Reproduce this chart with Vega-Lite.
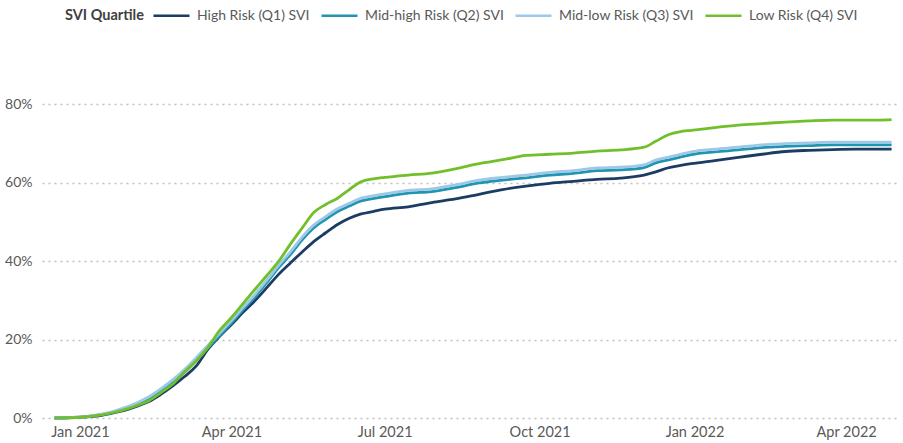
{
  "$schema": "https://vega.github.io/schema/vega-lite/v6.json",
  "width": 858,
  "height": 314,
  "autosize": "none",
  "padding": {"left": 42, "top": 104, "right": 3, "bottom": 25},
  "background": "white",
  "config": {
    "font": "Lato",
    "view": {"stroke": null}
  },
  "data": {
    "values": [
      {"date": "2020-12-17", "Q1": 0, "Q2": 0, "Q3": 0, "Q4": 0},
      {"date": "2020-12-24", "Q1": 0.05, "Q2": 0.05, "Q3": 0.05, "Q4": 0.05},
      {"date": "2020-12-31", "Q1": 0.15, "Q2": 0.2, "Q3": 0.2, "Q4": 0.15},
      {"date": "2021-01-07", "Q1": 0.35, "Q2": 0.45, "Q3": 0.5, "Q4": 0.4},
      {"date": "2021-01-14", "Q1": 0.7, "Q2": 0.9, "Q3": 1.0, "Q4": 0.8},
      {"date": "2021-01-21", "Q1": 1.3, "Q2": 1.5, "Q3": 1.7, "Q4": 1.4},
      {"date": "2021-01-28", "Q1": 2.0, "Q2": 2.4, "Q3": 2.7, "Q4": 2.2},
      {"date": "2021-02-04", "Q1": 3.0, "Q2": 3.5, "Q3": 3.9, "Q4": 3.2},
      {"date": "2021-02-11", "Q1": 4.2, "Q2": 4.9, "Q3": 5.4, "Q4": 4.4},
      {"date": "2021-02-18", "Q1": 6.0, "Q2": 6.8, "Q3": 7.4, "Q4": 6.4},
      {"date": "2021-02-25", "Q1": 8.1, "Q2": 9.0, "Q3": 9.7, "Q4": 8.6},
      {"date": "2021-03-04", "Q1": 10.5, "Q2": 11.6, "Q3": 12.3, "Q4": 11.7},
      {"date": "2021-03-11", "Q1": 13.2, "Q2": 14.6, "Q3": 15.3, "Q4": 14.5},
      {"date": "2021-03-18", "Q1": 17.5, "Q2": 17.8, "Q3": 18.5, "Q4": 18.0},
      {"date": "2021-03-25", "Q1": 20.8, "Q2": 21.0, "Q3": 21.6, "Q4": 22.3},
      {"date": "2021-04-01", "Q1": 23.8, "Q2": 24.2, "Q3": 24.8, "Q4": 25.6},
      {"date": "2021-04-08", "Q1": 27.0, "Q2": 27.6, "Q3": 28.2, "Q4": 29.2},
      {"date": "2021-04-15", "Q1": 29.9, "Q2": 30.9, "Q3": 31.5, "Q4": 32.8},
      {"date": "2021-04-22", "Q1": 33.2, "Q2": 34.5, "Q3": 35.1, "Q4": 36.3},
      {"date": "2021-04-29", "Q1": 36.6, "Q2": 38.3, "Q3": 38.9, "Q4": 39.9},
      {"date": "2021-05-06", "Q1": 39.5, "Q2": 41.6, "Q3": 42.3, "Q4": 44.3},
      {"date": "2021-05-13", "Q1": 42.3, "Q2": 45.4, "Q3": 46.1, "Q4": 48.4},
      {"date": "2021-05-20", "Q1": 45.0, "Q2": 48.5, "Q3": 49.2, "Q4": 52.4},
      {"date": "2021-05-27", "Q1": 47.2, "Q2": 50.6, "Q3": 51.3, "Q4": 54.4},
      {"date": "2021-06-03", "Q1": 49.3, "Q2": 52.6, "Q3": 53.3, "Q4": 56.0},
      {"date": "2021-06-10", "Q1": 50.9, "Q2": 54.0, "Q3": 54.7, "Q4": 58.2},
      {"date": "2021-06-17", "Q1": 52.0, "Q2": 55.3, "Q3": 56.0, "Q4": 60.2},
      {"date": "2021-06-24", "Q1": 52.6, "Q2": 55.9, "Q3": 56.6, "Q4": 60.9},
      {"date": "2021-07-01", "Q1": 53.2, "Q2": 56.4, "Q3": 57.1, "Q4": 61.3},
      {"date": "2021-07-15", "Q1": 53.8, "Q2": 57.3, "Q3": 58.0, "Q4": 61.9},
      {"date": "2021-07-29", "Q1": 54.9, "Q2": 57.7, "Q3": 58.4, "Q4": 62.4},
      {"date": "2021-08-12", "Q1": 55.8, "Q2": 58.7, "Q3": 59.4, "Q4": 63.5},
      {"date": "2021-08-26", "Q1": 57.0, "Q2": 59.9, "Q3": 60.6, "Q4": 64.8},
      {"date": "2021-09-09", "Q1": 58.2, "Q2": 60.6, "Q3": 61.3, "Q4": 65.8},
      {"date": "2021-09-23", "Q1": 59.1, "Q2": 61.2, "Q3": 61.9, "Q4": 66.9},
      {"date": "2021-10-07", "Q1": 59.8, "Q2": 61.9, "Q3": 62.6, "Q4": 67.2},
      {"date": "2021-10-21", "Q1": 60.3, "Q2": 62.3, "Q3": 63.0, "Q4": 67.5},
      {"date": "2021-11-04", "Q1": 60.8, "Q2": 63.0, "Q3": 63.7, "Q4": 68.0},
      {"date": "2021-11-18", "Q1": 61.1, "Q2": 63.2, "Q3": 63.9, "Q4": 68.3},
      {"date": "2021-12-02", "Q1": 61.9, "Q2": 63.8, "Q3": 64.5, "Q4": 69.0},
      {"date": "2021-12-09", "Q1": 62.7, "Q2": 65.0, "Q3": 65.7, "Q4": 70.5},
      {"date": "2021-12-16", "Q1": 63.7, "Q2": 65.7, "Q3": 66.4, "Q4": 72.1},
      {"date": "2021-12-23", "Q1": 64.3, "Q2": 66.4, "Q3": 67.1, "Q4": 72.9},
      {"date": "2021-12-30", "Q1": 64.8, "Q2": 67.1, "Q3": 67.8, "Q4": 73.3},
      {"date": "2022-01-13", "Q1": 65.6, "Q2": 67.8, "Q3": 68.5, "Q4": 74.0},
      {"date": "2022-01-27", "Q1": 66.4, "Q2": 68.3, "Q3": 69.0, "Q4": 74.6},
      {"date": "2022-02-10", "Q1": 67.2, "Q2": 68.9, "Q3": 69.6, "Q4": 75.0},
      {"date": "2022-02-24", "Q1": 67.9, "Q2": 69.2, "Q3": 69.9, "Q4": 75.4},
      {"date": "2022-03-10", "Q1": 68.2, "Q2": 69.4, "Q3": 70.1, "Q4": 75.7},
      {"date": "2022-03-24", "Q1": 68.4, "Q2": 69.6, "Q3": 70.3, "Q4": 75.9},
      {"date": "2022-04-07", "Q1": 68.5, "Q2": 69.6, "Q3": 70.3, "Q4": 75.9},
      {"date": "2022-04-21", "Q1": 68.5, "Q2": 69.6, "Q3": 70.3, "Q4": 75.9},
      {"date": "2022-04-28", "Q1": 68.5, "Q2": 69.6, "Q3": 70.3, "Q4": 76.0}
    ]
  },
  "transform": [
    {"fold": ["Q1", "Q2", "Q3", "Q4"], "as": ["series", "value"]}
  ],
  "mark": {"type": "line", "strokeWidth": 2.8, "interpolate": "monotone"},
  "encoding": {
    "x": {
      "field": "date",
      "type": "temporal",
      "scale": {"type": "utc", "domain": ["2020-12-09T12:00:00Z", "2022-05-03T00:00:00Z"]},
      "axis": {
        "title": null,
        "format": "%b %Y",
        "tickCount": {"interval": "month", "step": 3},
        "domain": false,
        "ticks": false,
        "grid": false,
        "labelFontSize": 14.5,
        "labelColor": "#595959",
        "labelPadding": 7,
        "labelFlush": false
      }
    },
    "y": {
      "field": "value",
      "type": "quantitative",
      "scale": {"domain": [0, 80], "nice": false},
      "axis": {
        "title": null,
        "values": [0, 20, 40, 60, 80],
        "labelExpr": "datum.value + '%'",
        "domain": false,
        "ticks": false,
        "grid": true,
        "gridDash": [2, 4],
        "gridColor": "#bfbfbf",
        "gridWidth": 1.5,
        "labelFontSize": 14,
        "labelColor": "#595959",
        "labelPadding": 10
      }
    },
    "color": {
      "field": "series",
      "type": "nominal",
      "scale": {
        "domain": ["Q1", "Q2", "Q3", "Q4"],
        "range": ["#1c3d63", "#1f95b0", "#9ec8e8", "#72bf2c"]
      },
      "legend": {
        "title": "SVI Quartile",
        "orient": "none",
        "legendX": 23,
        "legendY": -108,
        "direction": "horizontal",
        "titleOrient": "left",
        "titleBaseline": "top",
        "titleFontSize": 14.5,
        "titleFontWeight": "bold",
        "titleColor": "#404040",
        "titlePadding": 8,
        "labelFontSize": 14,
        "labelColor": "#595959",
        "labelOffset": 6,
        "columnPadding": 6,
        "symbolType": "stroke",
        "symbolSize": 1296,
        "symbolStrokeWidth": 2.5,
        "labelExpr": "datum.value == 'Q1' ? 'High Risk (Q1) SVI' : datum.value == 'Q2' ? 'Mid-high Risk (Q2) SVI' : datum.value == 'Q3' ? 'Mid-low Risk (Q3) SVI' : 'Low Risk (Q4) SVI'"
      }
    }
  }
}
